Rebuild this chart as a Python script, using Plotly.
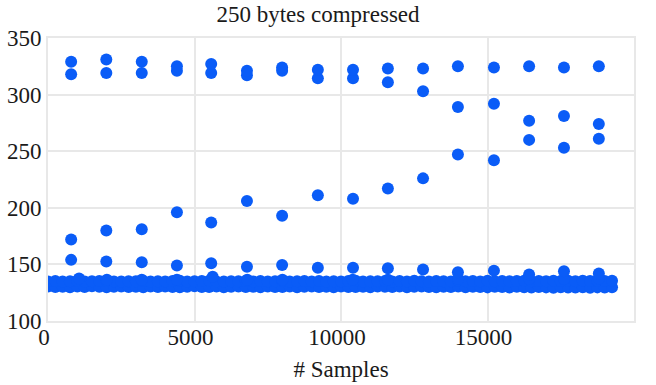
import plotly.graph_objects as go

# Sample positions of the sparse groups
group_x = [790, 1990, 3200, 4400, 5570, 6790, 7990, 9210, 10410, 11600,
           12800, 13990, 15220, 16420, 17610, 18800]
top_vals = [329, 331, 329, 325, 327, 321, 324, 322, 322, 323, 323, 325, 324, 325, 324, 325]
second_vals = [318, 319, 319, 321, 319, 317, 321, 314.5, 314.5, 311, 303, 289, 292, 277, 281, 274]
rising_vals = [172, 180, 181, 196, 187, 206, 193, 211, 208, 217, 226, 247, 242, 260, 253, 261]
low_vals = [154, 152.5, 152, 149, 151, 148, 149.5, 147, 147, 146.5, 145.5, 143, 144.5, 141, 144, 142]

# Dense band of samples near 132 bytes (lower and upper edge of the band)
band_x = [0, 250, 500, 750, 1000, 1250, 1500, 1750, 2000, 2250, 2500, 2750,
          3000, 3250, 3500, 3750, 4000, 4250, 4500, 4750, 5000, 5250, 5500, 5750,
          6000, 6250, 6500, 6750, 7000, 7250, 7500, 7750, 8000, 8250, 8500, 8750,
          9000, 9250, 9500, 9750, 10000, 10250, 10500, 10750, 11000, 11250, 11500, 11750,
          12000, 12250, 12500, 12750, 13000, 13250, 13500, 13750, 14000, 14250, 14500, 14750,
          15000, 15250, 15500, 15750, 16000, 16250, 16500, 16750, 17000, 17250, 17500, 17750,
          18000, 18250, 18500, 18750, 19000, 19250]
band_lo = [130.5, 130, 130.3, 129.8, 130.4, 130, 130.6, 130.2, 129.9, 130.3, 130.5, 130,
           130.2, 129.8, 130.4, 130.1, 130.5, 130, 129.9, 130.3, 130.6, 130.1, 130, 130.4,
           129.8, 130.2, 130.5, 130, 130.3, 129.9, 130.4, 130.1, 130, 130.5, 129.8, 130.2,
           130.4, 130, 130.3, 129.9, 130.5, 130.1, 130, 130.3, 129.8, 130.4, 130.2, 130,
           130.5, 129.9, 130.2, 130.4, 130, 129.8, 130.3, 130.1, 130.5, 129.9, 130.2, 130,
           129.7, 130.3, 130, 129.6, 130.2, 129.8, 129.5, 130, 129.7, 129.4, 129.9, 129.6,
           129.5, 129.8, 129.4, 129.7, 129.5, 129.8]
band_hi = [135, 135.3, 134.8, 135.2, 135.5, 134.9, 135.1, 135.4, 135.6, 135, 134.8, 135.2,
           135.1, 135.4, 134.9, 135.2, 135, 135.3, 135.6, 134.9, 135.1, 135.3, 135.5, 135,
           134.8, 135.2, 135.1, 135.4, 134.9, 135.3, 135, 135.2, 135.5, 134.8, 135.1, 135.3,
           135, 135.4, 134.9, 135.2, 135, 135.3, 135.5, 134.8, 135.2, 135.1, 135.4, 134.9,
           135.3, 135, 135.6, 135.1, 134.9, 135.3, 135.2, 135, 135.6, 135.1, 135.3, 135,
           135.5, 135.2, 135.4, 135.1, 135.3, 135.6, 135.2, 135.4, 135.1, 135.5, 135.3, 135.6,
           135.2, 135.5, 135.3, 135.6, 135.4, 135.5]
# A few samples poking just above the band
bump_x = [1060, 2010, 3200, 4400, 5620, 6800, 8000, 10400, 11600, 14000, 16420, 17610, 18800]
bump_y = [137.5, 136.5, 136.5, 136.5, 139, 136.5, 136.5, 136.5, 136.5, 137, 137, 137, 137.5]

color = "#0a5cf7"
fig = go.Figure()
for xs, ys in [(band_x, band_lo), (band_x, band_hi), (bump_x, bump_y),
               (group_x, low_vals), (group_x, rising_vals),
               (group_x, second_vals), (group_x, top_vals)]:
    fig.add_trace(go.Scatter(x=xs, y=ys, mode="markers",
                             marker=dict(size=12, color=color, line=dict(width=0)),
                             showlegend=False, hoverinfo="x+y"))

serif = "Liberation Serif"
fs = 23
txt = "#1a1a1a"
fig.update_layout(
    width=656, height=385,
    margin=dict(l=48, r=22, t=38, b=64),
    paper_bgcolor="white", plot_bgcolor="white",
    title=dict(text="250 bytes compressed", x=318/656, xanchor="center",
               y=1 - 14/385, yanchor="middle",
               font=dict(family=serif, size=fs, color=txt)),
    font=dict(family=serif, size=fs, color=txt),
)
fig.update_xaxes(range=[0, 20000], tickvals=[0, 5000, 10000, 15000, 20000],
                 ticktext=["0", "5000", "10000", "15000", "20000"],
                 tickfont=dict(family=serif, size=fs, color=txt),
                 ticklabelshift=-4, ticklabelstandoff=-6,
                 title=dict(text="# Samples", standoff=12,
                            font=dict(family=serif, size=fs, color=txt)),
                 automargin=False,
                 showgrid=True, gridcolor="#e8e8e8", gridwidth=2,
                 showline=True, linecolor="#e8e8e8", linewidth=2, mirror=True,
                 zeroline=False, ticks="")
fig.update_yaxes(range=[100, 350], tickvals=[100, 150, 200, 250, 300, 350],
                 ticktext=["100", "150", "200", "250", "300", "350"],
                 tickfont=dict(family=serif, size=fs, color=txt),
                 automargin=False,
                 showgrid=True, gridcolor="#e8e8e8", gridwidth=2,
                 showline=True, linecolor="#e8e8e8", linewidth=2, mirror=True,
                 zeroline=False, ticks="")
fig.write_html("out.html")
